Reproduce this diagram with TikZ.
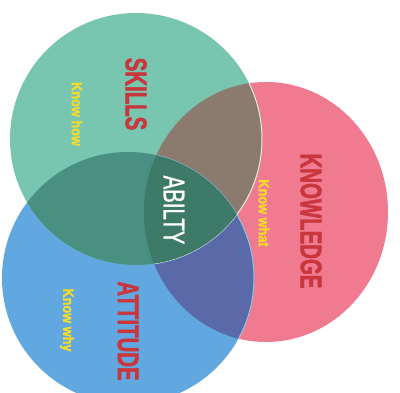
\documentclass[tikz,border=0pt]{standalone}
\usepackage{fontspec}
\setmainfont{Liberation Sans}
\newfontfamily\capsfont{Liberation Sans}[FakeStretch=0.68,FakeBold=1]
\newfontfamily\capsbold{Liberation Sans Bold}[FakeStretch=0.68,FakeBold=1.5]
\newfontfamily\smallfont{Liberation Sans Bold}[FakeStretch=0.85,FakeBold=1.2]
\usetikzlibrary{positioning}
\definecolor{skillc}{HTML}{78C5B0}
\definecolor{knowc}{HTML}{F07A90}
\definecolor{attc}{HTML}{62A8E0}
\definecolor{skknc}{HTML}{8A7B6E}
\definecolor{skatc}{HTML}{4A9080}
\definecolor{knatc}{HTML}{5A6AA8}
\definecolor{abilc}{HTML}{3E7A68}
\definecolor{wordc}{HTML}{C9363E}
\definecolor{hintc}{HTML}{F5DC2A}
\begin{document}
\begin{tikzpicture}[x=1pt,y=-1pt,
  bigword/.style={rotate=-90,inner sep=0pt,font=\capsbold\fontsize{30}{30}\selectfont,text=wordc},
  hint/.style={rotate=-90,inner sep=0pt,font=\smallfont\fontsize{15}{15}\selectfont,text=hintc}]
\useasboundingbox (0,0) rectangle (400,393);
\coordinate (sk) at (136,139);
\coordinate (kn) at (266,212);
\coordinate (at) at (128,278);
% base discs
\fill[knowc] (kn) ellipse [x radius=122, y radius=130];
\fill[attc] (at) circle [radius=126];
\fill[skillc] (sk) circle [radius=126];
% overlaps
\begin{scope}
  \clip (sk) circle [radius=126];
  \fill[skknc] (kn) ellipse [x radius=122, y radius=130];
  \fill[skatc] (at) circle [radius=126];
\end{scope}
\begin{scope}
  \clip (kn) ellipse [x radius=122, y radius=130];
  \fill[knatc] (at) circle [radius=126];
  \draw[white!75!skillc,line width=1pt] (sk) circle [radius=126];
  \draw[attc!70!white,line width=1pt] (at) circle [radius=126];
\end{scope}
\begin{scope}
  \clip (sk) circle [radius=126];
  \clip (kn) ellipse [x radius=122, y radius=130];
  \fill[abilc] (at) circle [radius=126];
\end{scope}
% labels
\node[bigword] (skills) at (136,94) {SKILLS};
\node[hint] (how) at (77,114) {Know how};
\node[bigword,text=white,font=\capsfont\fontsize{30}{30}\selectfont] (ability) at (174,210) {ABILTY};
\node[hint] (what) at (264,213) {Know what};
\node[bigword] (knowledge) at (311,221) {KNOWLEDGE};
\node[bigword] (attitude) at (128,331) {ATTITUDE};
\node[hint] (why) at (67,320) {Know why};
\end{tikzpicture}
\end{document}
